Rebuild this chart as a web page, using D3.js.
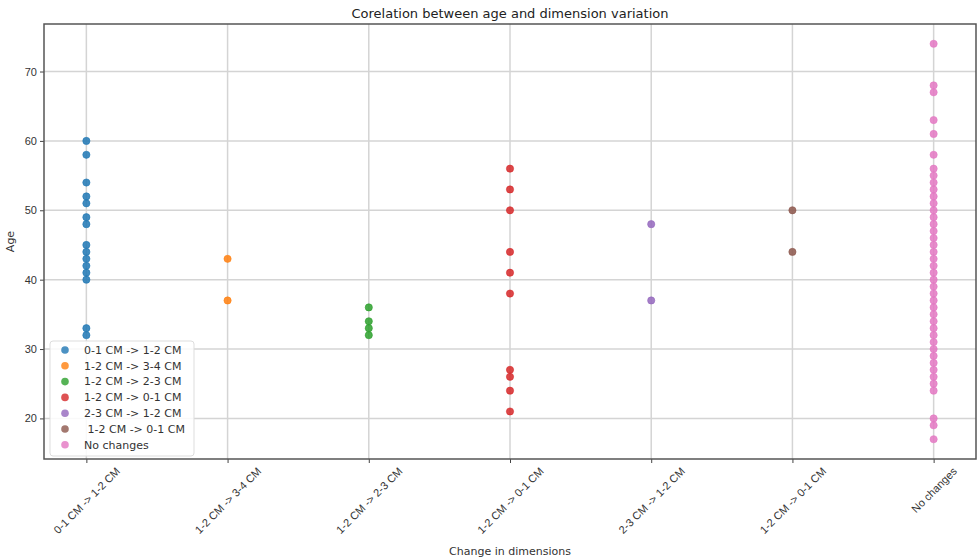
<!DOCTYPE html>
<html>
<head>
<meta charset="utf-8">
<script src="https://cdn.jsdelivr.net/npm/d3@7"></script>
<style>
  body { margin: 0; background: #fff; }
  svg { font-family: "DejaVu Sans", sans-serif; }
</style>
</head>
<body>
<div id="chart"></div>
<script>
// categories on the x axis (tick labels)
const categories = ["0-1 CM -> 1-2 CM", "1-2 CM -> 3-4 CM", "1-2 CM -> 2-3 CM", "1-2 CM -> 0-1 CM", "2-3 CM -> 1-2 CM", "1-2 CM -> 0-1 CM ", "No changes"];
// legend labels (the 6th one has a leading space in the original)
const legendLabels = ["0-1 CM -> 1-2 CM", "1-2 CM -> 3-4 CM", "1-2 CM -> 2-3 CM", "1-2 CM -> 0-1 CM", "2-3 CM -> 1-2 CM", " 1-2 CM -> 0-1 CM", "No changes"];
const colors = ["#1f77b4", "#ff7f0e", "#2ca02c", "#d62728", "#9467bd", "#8c564b", "#e377c2"];

// ages per category
const ages0 = [60, 58, 54, 52, 51, 49, 48, 45, 44, 43, 42, 41, 40, 33, 32];
const ages1 = [43, 37];
const ages2 = [36, 34, 33, 32];
const ages3 = [56, 53, 50, 44, 41, 38, 27, 26, 24, 21];
const ages4 = [48, 37];
const ages5 = [50, 44];
const ages6 = [74, 68, 67, 63, 61, 58, 56, 55, 54, 53, 52, 51, 50, 49, 48, 47, 46, 45, 44, 43, 42, 41, 40,
               39, 38, 37, 36, 35, 34, 33, 32, 31, 30, 29, 28, 27, 26, 25, 24, 20, 19, 17];

const yTicks = [20, 30, 40, 50, 60, 70];

const series = [ages0, ages1, ages2, ages3, ages4, ages5, ages6];

const width = 978, height = 559;
const margin = {top: 24, right: 2, bottom: 100, left: 44};

const svg = d3.select("#chart").append("svg")
  .attr("width", width)
  .attr("height", height);

const allAges = series.flat();
const yMin = d3.min(allAges), yMax = d3.max(allAges);
const yPad = (yMax - yMin) * 0.05;

const x = d3.scaleLinear()
  .domain([-0.3, categories.length - 1 + 0.3])
  .range([margin.left, width - margin.right]);

const y = d3.scaleLinear()
  .domain([yMin - yPad, yMax + yPad])
  .range([height - margin.bottom, margin.top]);

const plotBottom = height - margin.bottom;

// grid
const grid = svg.append("g");
grid.selectAll("line.gx")
  .data(categories.map((d, i) => i))
  .enter().append("line")
    .attr("x1", d => x(d)).attr("x2", d => x(d))
    .attr("y1", margin.top).attr("y2", plotBottom)
    .attr("stroke", "#d4d4d4").attr("stroke-width", 1.5);
grid.selectAll("line.gy")
  .data(yTicks)
  .enter().append("line")
    .attr("y1", d => y(d)).attr("y2", d => y(d))
    .attr("x1", margin.left).attr("x2", width - margin.right)
    .attr("stroke", "#d4d4d4").attr("stroke-width", 1.5);

// points
series.forEach((ages, i) => {
  svg.append("g").selectAll("circle")
    .data(ages)
    .enter().append("circle")
      .attr("cx", x(i))
      .attr("cy", d => y(d))
      .attr("r", 3.6)
      .attr("fill", colors[i])
      .attr("fill-opacity", 0.85)
      .attr("stroke", colors[i])
      .attr("stroke-width", 0.6);
});

// axes
const xAxis = svg.append("g")
  .attr("transform", `translate(0,${plotBottom})`)
  .call(d3.axisBottom(x).tickValues(categories.map((d, i) => i)).tickFormat(i => categories[i]).tickSize(4).tickSizeOuter(0));
xAxis.select(".domain").remove();
xAxis.selectAll(".tick line").attr("stroke", "#444");
// matplotlib style: rotated 45 deg around the label centre, box top just under the tick
xAxis.selectAll(".tick text")
  .attr("font-size", 11)
  .attr("fill", "#333")
  .attr("text-anchor", "middle")
  .attr("y", 0)
  .attr("dy", "0.35em")
  .each(function() {
    const w = this.getComputedTextLength();
    const h = 12;
    const cy = 6 + (w + h) * Math.SQRT1_2 / 2;
    d3.select(this).attr("transform", `translate(0,${cy}) rotate(-45)`);
  });

const yAxis = svg.append("g")
  .attr("transform", `translate(${margin.left},0)`)
  .call(d3.axisLeft(y).tickValues(yTicks).tickSize(4));
yAxis.select(".domain").remove();
yAxis.selectAll(".tick line").attr("stroke", "#444");
yAxis.selectAll(".tick text").attr("font-size", 11).attr("fill", "#333");

// frame
svg.append("rect")
  .attr("x", margin.left).attr("y", margin.top)
  .attr("width", width - margin.right - margin.left)
  .attr("height", plotBottom - margin.top)
  .attr("fill", "none")
  .attr("stroke", "#555")
  .attr("stroke-width", 1.5);

// title and labels
svg.append("text")
  .attr("x", (margin.left + width - margin.right) / 2)
  .attr("y", 18)
  .attr("text-anchor", "middle")
  .attr("font-size", 13)
  .attr("fill", "#222")
  .text("Corelation between age and dimension variation");

svg.append("text")
  .attr("x", (margin.left + width - margin.right) / 2)
  .attr("y", 555)
  .attr("text-anchor", "middle")
  .attr("font-size", 11)
  .attr("fill", "#333")
  .text("Change in dimensions");

svg.append("text")
  .attr("transform", `translate(14,${(margin.top + plotBottom) / 2}) rotate(-90)`)
  .attr("text-anchor", "middle")
  .attr("font-size", 11)
  .attr("fill", "#333")
  .text("Age");

// legend
const legend = svg.append("g").attr("transform", "translate(50,341)");
legend.append("rect")
  .attr("width", 144).attr("height", 115)
  .attr("rx", 3)
  .attr("fill", "#fff").attr("fill-opacity", 0.85)
  .attr("stroke", "#ddd");
legendLabels.forEach((label, i) => {
  const g = legend.append("g").attr("transform", `translate(0,${9 + i * 15.8})`);
  g.append("circle")
    .attr("cx", 15).attr("cy", 0).attr("r", 3.8)
    .attr("fill", colors[i]).attr("fill-opacity", 0.8);
  g.append("text")
    .attr("x", 34).attr("y", 0).attr("dy", "0.35em")
    .attr("font-size", 11).attr("fill", "#333")
    .attr("xml:space", "preserve")
    .style("white-space", "pre")
    .text(label);
});
</script>
</body>
</html>
